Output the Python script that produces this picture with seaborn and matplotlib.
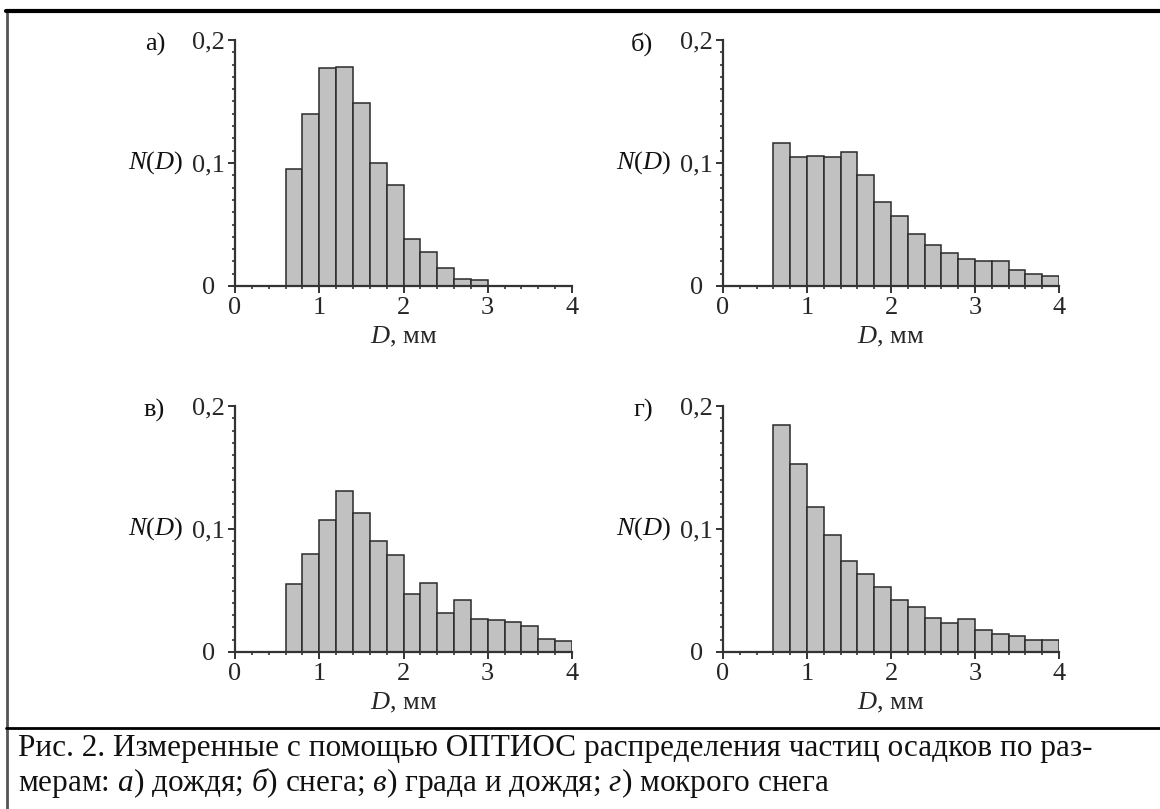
"""
Histograms of precipitation particle size distributions (OPTIOS), 2x2 panels + caption
"""
import numpy as np
import matplotlib
matplotlib.use("Agg")
import matplotlib.pyplot as plt
from matplotlib.lines import Line2D
from matplotlib.ticker import MultipleLocator, FixedLocator
import seaborn as sns

# bin edges, mm
bin_edges = [0.6, 0.8, 1.0, 1.2, 1.4, 1.6, 1.8, 2.0, 2.2, 2.4,
             2.6, 2.8, 3.0, 3.2, 3.4, 3.6, 3.8, 4.0]

# N(D) per bin
rain = [0.095, 0.140, 0.177, 0.178, 0.149, 0.100, 0.082, 0.038, 0.028,
        0.015, 0.006, 0.0045, 0.0, 0.0, 0.0, 0.0, 0.0]
snow = [0.116, 0.105, 0.106, 0.105, 0.109, 0.090, 0.068, 0.057, 0.042,
        0.033, 0.027, 0.022, 0.020, 0.0205, 0.0127, 0.0097, 0.008]
hail_rain = [0.055, 0.080, 0.107, 0.131, 0.113, 0.090, 0.0785, 0.0475, 0.056,
             0.0316, 0.0426, 0.027, 0.026, 0.024, 0.0208, 0.0105, 0.009]
wet_snow = [0.1847, 0.153, 0.118, 0.095, 0.0743, 0.0633, 0.0525, 0.0425, 0.0366,
            0.0277, 0.0237, 0.0266, 0.0175, 0.015, 0.013, 0.010, 0.010]

panel_letters = ["а)", "б)", "в)", "г)"]
ytick_labels = ["0", "0,1", "0,2"]
xtick_labels = ["0", "1", "2", "3", "4"]
caption = ("Рис. 2. Измеренные с помощью ОПТИОС распределения частиц осадков по раз-\n"
           "мерам: $а$) дождя; $б$) снега; $в$) града и дождя; $г$) мокрого снега")

W, H = 1160, 809
sns.set_theme(style="white")
plt.rcParams["font.family"] = ["Liberation Serif", "DejaVu Serif"]
plt.rcParams["mathtext.fontset"] = "custom"
plt.rcParams["mathtext.rm"] = "Liberation Serif"
plt.rcParams["mathtext.it"] = "Liberation Serif:italic"
plt.rcParams["text.color"] = "#111111"

FS = 19
AX_COLOR = "#333333"


def px_box(x0, y0, x1, y1):
    # pixel box (left, axis-y at 0, right, axis-y at top) -> figure fraction
    return [x0 / W, 1 - y0 / H, (x1 - x0) / W, (y0 - y1) / H]


fig = plt.figure(figsize=(W / 100, H / 100), dpi=100)

boxes = [px_box(235, 286, 572, 40), px_box(723, 286, 1059, 40),
         px_box(235, 652, 572, 406), px_box(723, 652, 1059, 406)]
series = [rain, snow, hail_rain, wet_snow]

centers = [(a + b) / 2 for a, b in zip(bin_edges[:-1], bin_edges[1:])]

for box, vals, letter in zip(boxes, series, panel_letters):
    ax = fig.add_axes(box)
    sns.histplot(x=centers, weights=vals, bins=bin_edges, ax=ax,
                 color="#c1c1c1", alpha=1.0, edgecolor="#2a2a2a", linewidth=1.1)
    ax.set_xlim(0, 4)
    ax.set_ylim(0, 0.2)
    ax.set_facecolor("none")
    for side in ["top", "right"]:
        ax.spines[side].set_visible(False)
    for side in ["left", "bottom"]:
        ax.spines[side].set_color(AX_COLOR)
        ax.spines[side].set_linewidth(1.6)

    ax.xaxis.set_major_locator(FixedLocator([0, 1, 2, 3, 4]))
    ax.xaxis.set_minor_locator(MultipleLocator(0.2))
    ax.yaxis.set_major_locator(FixedLocator([0, 0.1, 0.2]))
    ax.yaxis.set_minor_locator(MultipleLocator(0.01))
    ax.set_xticklabels(xtick_labels, fontsize=FS)
    ax.set_yticklabels(ytick_labels, fontsize=FS, ha="center")
    ax.tick_params(axis="both", which="major", direction="out", length=5,
                   width=1.4, color=AX_COLOR, bottom=True, left=True)
    ax.tick_params(axis="both", which="minor", direction="out", length=2.5,
                   width=1.2, color=AX_COLOR, bottom=True, left=True)
    ax.tick_params(axis="x", which="major", pad=3)
    ax.tick_params(axis="y", which="major", pad=14)

    ax.set_ylabel("")
    ax.set_xlabel("$D$, мм", fontsize=FS, labelpad=4)
    ax.annotate("$N$($D$)", xy=(0, 0.1), xycoords=("axes fraction", "data"),
                xytext=(-52, 0), textcoords="offset pixels",
                ha="right", va="center", fontsize=FS)
    ax.annotate(letter, xy=(0, 0.2), xycoords=("axes fraction", "data"),
                xytext=(-70, -4), textcoords="offset pixels",
                ha="right", va="center", fontsize=FS)

# frame lines around the figure and caption separator
fig.add_artist(Line2D([7 / W, 7 / W], [0, 1 - 10 / H], transform=fig.transFigure,
                      color="#555555", linewidth=2))
fig.add_artist(Line2D([6 / W, 1], [1 - 11 / H, 1 - 11 / H], transform=fig.transFigure,
                      color="black", linewidth=3))
fig.add_artist(Line2D([6 / W, 1], [1 - 728 / H, 1 - 728 / H], transform=fig.transFigure,
                      color="black", linewidth=2))

fig.text(18 / W, 1 - 734 / H, caption, ha="left", va="top", fontsize=22.5,
         linespacing=1.12)

fig.savefig("out.png", dpi=100)
